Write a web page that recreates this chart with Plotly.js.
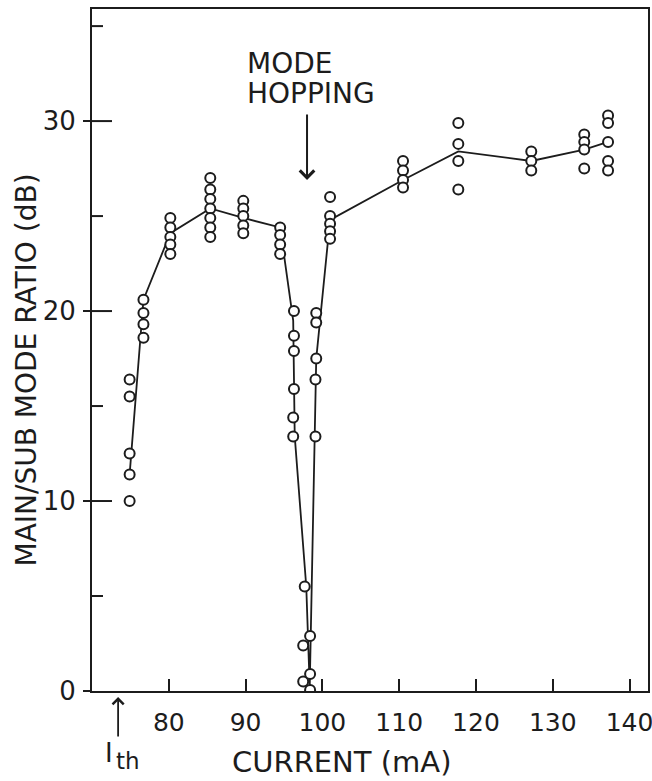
<!DOCTYPE html>
<html>
<head>
<meta charset="utf-8">
<script src="https://cdn.plot.ly/plotly-3.0.1.min.js"></script>
<style>
  html, body { margin: 0; padding: 0; background: #ffffff; }
  #chart { width: 652px; height: 781px; }
</style>
</head>
<body>
<div id="chart"></div>
<script>
// Measured points: injection current (mA) and main/sub mode ratio (dB)
const measuredCurrent = [
  74.9, 74.9, 74.9, 74.9, 74.9,
  76.7, 76.7, 76.7, 76.7,
  80.2, 80.2, 80.2, 80.2, 80.2,
  85.4, 85.4, 85.4, 85.4, 85.4, 85.4, 85.4,
  89.7, 89.7, 89.7, 89.7, 89.7,
  94.5, 94.5, 94.5, 94.5,
  96.3, 96.3, 96.3, 96.3, 96.2, 96.2,
  97.7, 97.5, 97.5, 98.4, 98.4, 98.4,
  99.2, 99.2, 99.2, 99.1, 99.1,
  101.0, 101.0, 101.0, 101.0, 101.0,
  110.5, 110.5, 110.5, 110.5,
  117.7, 117.7, 117.7, 117.7,
  127.2, 127.2, 127.2,
  134.1, 134.1, 134.1, 134.1,
  137.2, 137.2, 137.2, 137.2, 137.2
];
const measuredRatio = [
  16.4, 15.5, 12.5, 11.4, 10.0,
  20.6, 19.9, 19.3, 18.6,
  24.9, 24.4, 23.9, 23.5, 23.0,
  27.0, 26.4, 25.9, 25.4, 24.9, 24.4, 23.9,
  25.8, 25.4, 25.0, 24.5, 24.1,
  24.4, 24.0, 23.5, 23.0,
  20.0, 18.7, 17.9, 15.9, 14.4, 13.4,
  5.5, 2.4, 0.5, 2.9, 0.9, 0.05,
  19.9, 19.4, 17.5, 16.4, 13.4,
  26.0, 25.0, 24.6, 24.2, 23.8,
  27.9, 27.4, 26.9, 26.5,
  29.9, 28.8, 27.9, 26.4,
  28.4, 27.9, 27.4,
  29.3, 28.9, 28.5, 27.5,
  30.3, 29.9, 28.9, 27.9, 27.4
];
// Hand-drawn trend curve through the measurements
const trendCurrent = [74.9, 76.7, 80.2, 85.4, 89.7, 94.5, 96.2, 96.4, 97.9, 98.35, 99.2, 101.0, 110.5, 117.7, 127.2, 134.1, 137.2];
const trendRatio   = [11.4, 20.6, 24.1, 25.4, 24.9, 24.4, 19.5, 13.4, 5.5, 0.2, 17.5, 24.8, 26.9, 28.4, 27.9, 28.5, 28.9];
// Axis ticks
const xTicks = [80, 90, 100, 110, 120, 130, 140];
const yTicks = [0, 10, 20, 30];
const yMinorTicks = [5, 15, 25, 35];
const thresholdCurrent = 73.4;
const hopCurrent = 98.0, hopRatio = 26.9;

const ink = '#1c1c1c';
const X0 = 70, X1 = 142.4, Y0 = 0, Y1 = 35.9;

const traces = [
  {
    x: trendCurrent, y: trendRatio, type: 'scatter', mode: 'lines',
    line: { color: ink, width: 1.8 }, hoverinfo: 'skip', showlegend: false
  },
  {
    x: measuredCurrent, y: measuredRatio, type: 'scatter', mode: 'markers',
    marker: { symbol: 'circle', size: 10, color: '#ffffff', line: { color: ink, width: 2 } },
    showlegend: false
  }
];

// inner tick marks on the left axis (major long, minor short), pinned to the axis in pixels
const innerTick = (v, len) => ({
  type: 'line', xref: 'paper', yref: 'y', xsizemode: 'pixel', xanchor: 0,
  x0: 0, x1: len, y0: v, y1: v, line: { color: ink, width: 2 }
});
const tickShapes = yTicks.filter(v => v > 0).map(v => innerTick(v, 20))
  .concat(yMinorTicks.map(v => innerTick(v, 11)));

const tf = 'DejaVu Sans, Arial, sans-serif';
const layout = {
  width: 652, height: 781,
  margin: { l: 92, r: 4, t: 9, b: 90 },
  paper_bgcolor: '#ffffff', plot_bgcolor: '#ffffff',
  showlegend: false,
  xaxis: {
    range: [X0, X1], tickmode: 'array', tickvals: xTicks, ticktext: xTicks.map(String),
    ticks: 'inside', ticklen: 12, tickwidth: 2, tickcolor: ink,
    showline: true, linewidth: 2, linecolor: ink, mirror: true,
    showgrid: false, zeroline: false,
    tickfont: { family: tf, size: 25, color: ink },
    ticklabelstandoff: 8,
    ticklabeloverflow: 'allow'
  },
  yaxis: {
    range: [Y0, Y1], tickmode: 'array', tickvals: yTicks, ticktext: yTicks.map(String),
    ticks: 'outside', ticklen: 7, tickwidth: 2, tickcolor: ink,
    showline: true, linewidth: 2, linecolor: ink, mirror: true,
    showgrid: false, zeroline: false,
    tickfont: { family: tf, size: 26, color: ink },
    ticklabelstandoff: 2
  },
  shapes: tickShapes,
  annotations: [
    { text: 'MAIN/SUB MODE RATIO (dB)', xref: 'paper', yref: 'paper',
      x: (25.5 - 92) / 556, y: (691 - 370) / 682, textangle: -90,
      xanchor: 'center', yanchor: 'middle', showarrow: false,
      font: { family: tf, size: 28, color: ink } },
    { text: 'CURRENT (mA)', xref: 'paper', yref: 'paper',
      x: (341 - 92) / 556, y: (691 - 762) / 682,
      xanchor: 'center', yanchor: 'middle', showarrow: false,
      font: { family: tf, size: 29, color: ink } },
    { text: 'MODE', xref: 'paper', yref: 'paper',
      x: (245 - 92) / 556, y: (691 - 63) / 682,
      xanchor: 'left', yanchor: 'middle', showarrow: false,
      font: { family: tf, size: 28, color: ink } },
    { text: 'HOPPING', xref: 'paper', yref: 'paper',
      x: (245 - 92) / 556, y: (691 - 93) / 682,
      xanchor: 'left', yanchor: 'middle', showarrow: false,
      font: { family: tf, size: 28, color: ink } },
    { text: '', x: hopCurrent, y: hopRatio, xref: 'x', yref: 'y',
      showarrow: true, ax: 0, ay: -67, axref: 'pixel', ayref: 'pixel',
      arrowhead: 4, arrowsize: 1.4, arrowwidth: 2, arrowcolor: ink },
    { text: '', x: thresholdCurrent, y: (691 - 697) / 682, xref: 'x', yref: 'paper',
      showarrow: true, ax: 0, ay: 41,
      arrowhead: 4, arrowsize: 1.2, arrowwidth: 1.8, arrowcolor: ink },
    { text: 'I', xref: 'paper', yref: 'paper',
      x: (109 - 92) / 556, y: (691 - 753) / 682,
      xanchor: 'center', yanchor: 'middle', showarrow: false,
      font: { family: tf, size: 26, color: ink } },
    { text: 'th', xref: 'paper', yref: 'paper',
      x: (114 - 92) / 556, y: (691 - 761) / 682,
      xanchor: 'left', yanchor: 'middle', showarrow: false,
      font: { family: tf, size: 23, color: ink } }
  ]
};

Plotly.newPlot('chart', traces, layout, { displayModeBar: false, staticPlot: true });
</script>
</body>
</html>
